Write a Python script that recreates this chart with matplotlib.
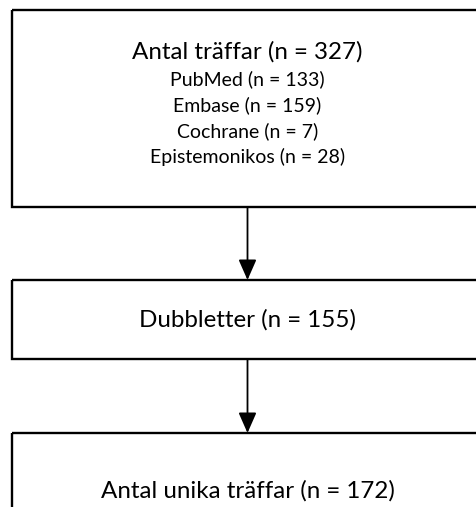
import matplotlib.pyplot as plt
from matplotlib.patches import Rectangle

plt.rcParams['font.family'] = ['Lato', 'DejaVu Sans']

# flowchart content
box_titles = ['Antal träffar (n = 327)', 'Dubbletter (n = 155)', 'Antal unika träffar (n = 172)']
sources = ['PubMed', 'Embase', 'Cochrane', 'Epistemonikos']
source_counts = [133, 159, 7, 28]

# box geometry in pixels (top, bottom)
boxes = [(10, 207), (280, 359), (433, 530)]
left, right = 12, 500
cx = 247.5

fig = plt.figure(figsize=(4.77, 5.07), dpi=100)
ax = fig.add_axes([0, 0, 1, 1])
ax.set_xlim(0, 477)
ax.set_ylim(507, 0)
ax.axis('off')

for top, bottom in boxes:
    ax.add_patch(Rectangle((left, top), right - left, bottom - top,
                           fill=False, edgecolor='black', linewidth=1.7))

# arrows between boxes
for (t1, b1), (t2, b2) in zip(boxes[:-1], boxes[1:]):
    ax.annotate('', xy=(cx, t2), xytext=(cx, b1),
                arrowprops=dict(arrowstyle='-|>,head_length=1.25,head_width=0.55',
                                color='black', lw=1.3, shrinkA=0, shrinkB=0))

ax.text(cx, 52, box_titles[0], ha='center', va='center', fontsize=17.4)
for i, (s, n) in enumerate(zip(sources, source_counts)):
    ax.text(cx, 79.5 + i * 25.8, f'{s} (n = {n})', ha='center', va='center', fontsize=14)

ax.text(cx, 320, box_titles[1], ha='center', va='center', fontsize=17.4)
ax.text(cx, 491, box_titles[2], ha='center', va='center', fontsize=17.4)

fig.savefig('out.png', dpi=100)
